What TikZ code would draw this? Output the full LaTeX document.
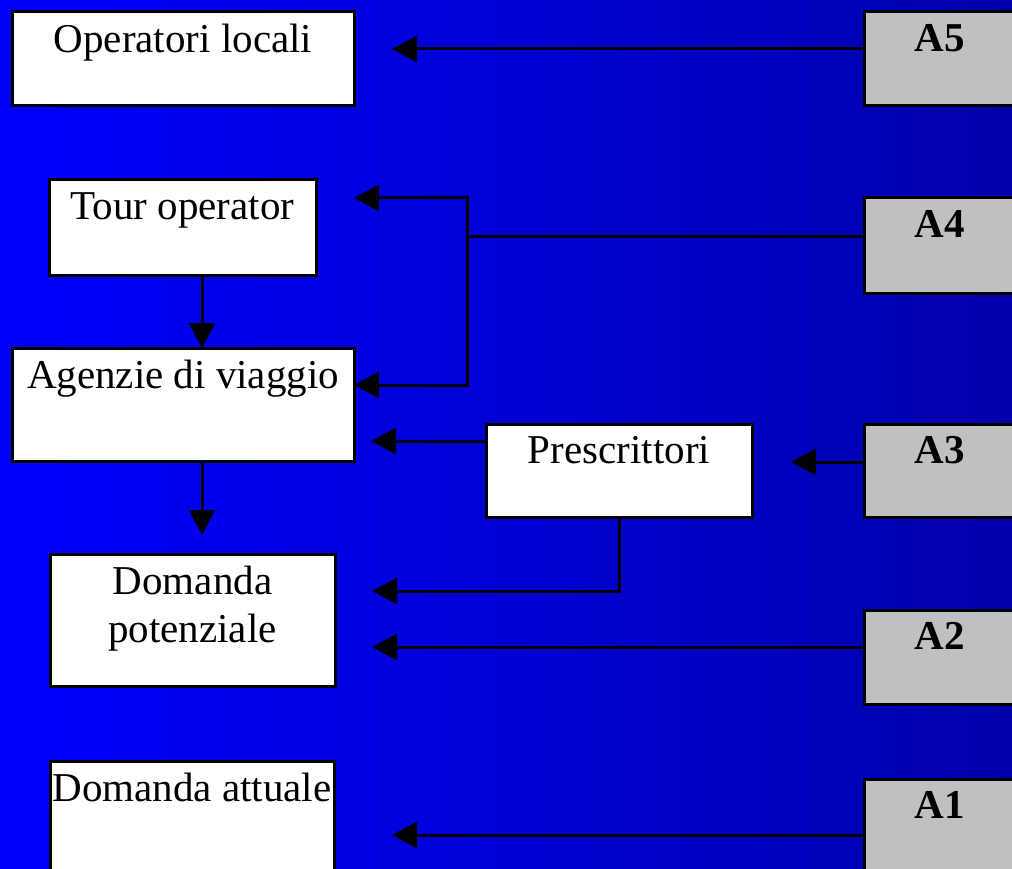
\documentclass[tikz,border=0pt]{standalone}
\usepackage{fontspec}
\setmainfont{Liberation Serif}
\usepackage{xcolor}
\usetikzlibrary{arrows.meta, calc}

\definecolor{bgleft}{RGB}{0,0,255}
\definecolor{bgright}{RGB}{0,0,170}
\definecolor{boxgray}{RGB}{192,192,192}

\begin{document}
\begin{tikzpicture}[x=1pt, y=-1pt,
        box/.style={draw=black, line width=3pt, fill=white, anchor=north west, outer sep=0pt, inner sep=0pt},
        abox/.style={box, fill=boxgray, minimum width=152pt},
        txt/.style={anchor=north, inner sep=0pt, align=center, font=\fontsize{41}{48}\selectfont},
        line/.style={line width=3pt},
        arr/.style={line, -{Triangle[length=25pt, width=26pt]}}]

        \useasboundingbox (0,0) rectangle (1012,869);
        \shade[left color=bgleft, right color=bgright] (0,0) rectangle (1012,869);

        % left column
        \node[box, minimum width=342pt, minimum height=94pt] (oploc) at (12,12) {};
        \node[box, minimum width=267pt, minimum height=95pt] (tour) at (49,180) {};
        \node[box, minimum width=342pt, minimum height=113pt] (agenzie) at (12,348) {};
        \node[box, minimum width=266pt, minimum height=93pt] (presc) at (486,424) {};
        \node[box, minimum width=285pt, minimum height=132pt] (dpot) at (50,554) {};
        \node[box, minimum width=284pt, minimum height=120pt] (datt) at (50,761) {};

        % right column
        \node[abox, minimum height=94pt] (a5) at (864,12) {};
        \node[abox, minimum height=95pt] (a4) at (864,198) {};
        \node[abox, minimum height=93pt] (a3) at (864,424) {};
        \node[abox, minimum height=94pt] (a2) at (864,610) {};
        \node[abox, minimum height=100pt] (a1) at (864,779) {};

        % texts
        \node[txt] (oploc-t) at ($(oploc.north)+(0,12)$) {Operatori locali};
        \node[txt] (tour-t) at ($(tour.north)+(0,12)$) {Tour operator};
        \node[txt] (agenzie-t) at ($(agenzie.north)+(0,12)$) {Agenzie di viaggio};
        \node[txt] (presc-t) at ($(presc.north)+(0,12)$) {Prescrittori};
        \node[txt] (dpot-t) at ($(dpot.north)+(0,12)$) {Domanda\\potenziale};
        \node[txt] (datt-t) at ($(datt.north)+(0,12)$) {Domanda attuale};
        \foreach \n in {1,...,5}
            \node[txt, font=\fontsize{41}{48}\selectfont\bfseries] (a\n-t) at ($(a\n.north)+(0,12)$) {A\n};

        \coordinate (j4) at ($(a4.west)+(-397,-8.5)$);

        % connectors
        \draw[arr] ($(a5.west)+(0,-10)$) -- ($(oploc.east)+(38,-10)$);
        \draw[line] ($(a4.west)+(0,-8.5)$) -- (j4);
        \draw[arr] (j4) |- ($(tour.north east)+(38,18)$);
        \draw[arr] (j4) |- ($(agenzie.north east)+(0,37)$);
        \draw[arr] ($(tour.south)+(19.5,0)$) -- ($(tour.south |- agenzie.north)+(19.5,0)$);
        \draw[arr] ($(agenzie.south)+(19,0)$) -- ($(agenzie.south |- dpot.north)+(19,-19)$);
        \draw[arr] ($(presc.west)+(0,-29.5)$) -- ($(presc.west -| agenzie.east)+(17,-29.5)$);
        \draw[arr] ($(a3.west)+(0,-8.5)$) -- ($(presc.east)+(39,-8.5)$);
        \draw[arr] (presc.south) |- ($(dpot.east)+(37,-29)$);
        \draw[arr] ($(a2.west)+(0,-10)$) -- ($(a2.west -| dpot.east)+(37,-10)$);
        \draw[arr] ($(a1.west)+(0,6)$) -- ($(a1.west -| datt.east)+(58,6)$);

\end{tikzpicture}
\end{document}
